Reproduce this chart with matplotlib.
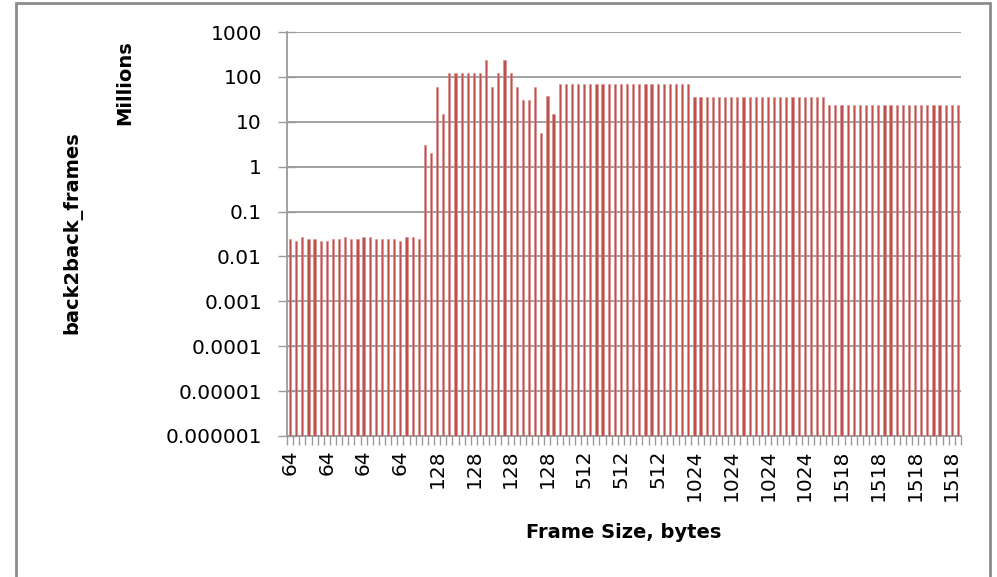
import matplotlib
matplotlib.use("Agg")
import matplotlib.pyplot as plt
import matplotlib.patches as patches
import numpy as np

plt.rcParams['font.family'] = ['DejaVu Sans']

# frame sizes, 22 trials each
frame_sizes = ["64", "128", "512", "1024", "1518"]
trials_per_size = 22

# back2back frames, in millions, one value per trial
frames_64 = [0.025, 0.022, 0.027, 0.025, 0.025, 0.022, 0.022, 0.025, 0.025, 0.027, 0.025,
             0.025, 0.027, 0.027, 0.025, 0.025, 0.025, 0.025, 0.022, 0.027, 0.027, 0.025]
frames_128 = [3.0, 2.0, 60, 15, 123, 123, 123, 123, 123, 123, 240,
              60, 123, 240, 123, 60, 31, 31, 60, 5.7, 38, 15]
frames_512 = [68] * 22
frames_1024 = [35] * 22
frames_1518 = [24] * 22

y_ticks = [1e-6, 1e-5, 1e-4, 1e-3, 1e-2, 1e-1, 1, 10, 100, 1000]
y_tick_labels = ["0.000001", "0.00001", "0.0001", "0.001", "0.01", "0.1",
                 "1", "10", "100", "1000"]

values = frames_64 + frames_128 + frames_512 + frames_1024 + frames_1518
labels = [s for s in frame_sizes for _ in range(trials_per_size)]
x = np.arange(len(values))

fig = plt.figure(figsize=(9.97, 5.77), dpi=100)
ax = fig.add_axes([287 / 997, 1 - 436 / 577, (961 - 287) / 997, (436 - 32) / 577])

grid_gray = "#9a9a9a"
ax.set_yscale("log")
ax.bar(x, values, width=0.36, color="#c0504d", edgecolor="#d98c8a", linewidth=0.4,
       bottom=0, zorder=3)
ax.set_ylim(1e-6, 1000)
ax.set_xlim(-0.5, len(values) - 0.5)

ax.set_yticks(y_ticks)
ax.set_yticklabels(y_tick_labels)
ax.yaxis.set_minor_locator(matplotlib.ticker.NullLocator())
ax.grid(axis="y", color=grid_gray, linewidth=1.3, zorder=0)
ax.tick_params(axis="y", which="major", direction="inout", length=13, width=1,
               color=grid_gray, pad=11.5, labelsize=14.5)

# labels every 6th category, small ticks on every category boundary
ax.set_xticks(x[::6])
ax.set_xticklabels(labels[::6], rotation=90, va="top", ha="center")
ax.set_xticks(np.arange(len(values) + 1) - 0.5, minor=True)
ax.tick_params(axis="x", which="major", length=0, pad=9.5, labelsize=14.5)
ax.tick_params(axis="x", which="minor", length=6.5, width=1, color=grid_gray)

for side in ["top", "right"]:
    ax.spines[side].set_visible(False)
for side in ["left", "bottom"]:
    ax.spines[side].set_color(grid_gray)
    ax.spines[side].set_linewidth(1.3)

fig.text(624 / 997, 1 - 532 / 577, "Frame Size, bytes", ha="center", va="center",
         fontsize=14, fontweight="bold")
fig.text(72 / 997, 1 - 233 / 577, "back2back_frames", ha="center", va="center",
         rotation=90, fontsize=14, fontweight="bold")
fig.text(125 / 997, 1 - 83 / 577, "Millions", ha="center", va="center",
         rotation=90, fontsize=14, fontweight="bold")

# chart area border
fig.add_artist(patches.Rectangle((16 / 997, -0.02), (990 - 16) / 997, 0.02 + 1 - 3 / 577,
                                 transform=fig.transFigure, fill=False,
                                 edgecolor="#8c8c8c", linewidth=2))

fig.savefig("out.png", dpi=100)
